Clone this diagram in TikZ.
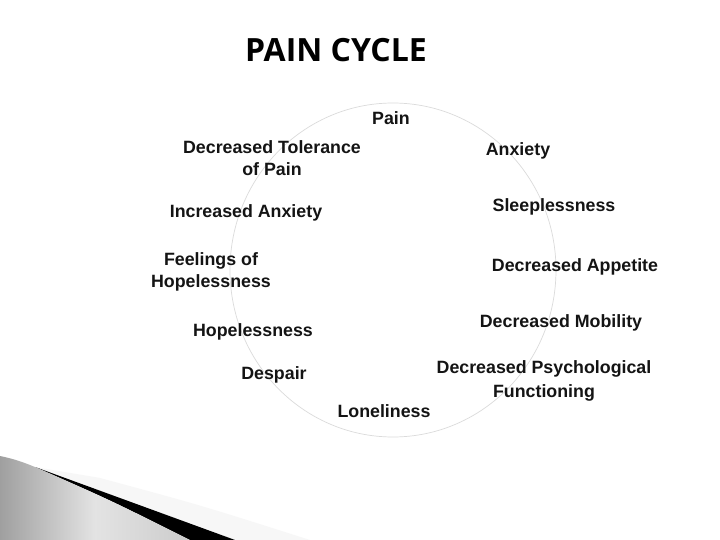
\documentclass[tikz,border=0pt]{standalone}
\usepackage{fontspec}
\setmainfont{Liberation Sans}
\newfontfamily\ttlfont{Open Sans}
\begin{document}
\begin{tikzpicture}[x=1pt,y=-1pt,
  lbl/.style={font=\bfseries\fontsize{17.8}{22}\selectfont, align=center, inner sep=0pt, text=black!92},
  ttl/.style={font=\ttlfont\bfseries\fontsize{32}{38}\selectfont, inner sep=0pt, text=black}]
\useasboundingbox (0,0) rectangle (720,540);
\fill[white] (0,0) rectangle (720,540);
% swoosh
\fill[gray!6] (35,467) .. controls (120,500) .. (235,540) -- (310,540) .. controls (200,505) .. (100,478) -- cycle;
\fill[black] (35,467) .. controls (120,498) .. (235,540) -- (190,540) .. controls (110,500) .. (35,467) -- cycle;
\shade[left color=gray!75, right color=gray!40, middle color=gray!22]
  (0,456) .. controls (15,459) and (25,463) .. (35,467) .. controls (110,500) .. (190,540) -- (0,540) -- cycle;
% circle
\draw[gray!28, line width=0.7pt] (393,270) ellipse [x radius=163, y radius=167];
% title
\node[ttl] (title) at (336,50) {PAIN CYCLE};
% labels
\node[lbl] (pain) at (391,118) {Pain};
\node[lbl] (dtol) at (272,158) {Decreased Tolerance\\of Pain};
\node[lbl] (anx) at (518,151) {Anxiety};
\node[lbl] (ianx) at (246,213) {Increased Anxiety};
\node[lbl] (sleep) at (554,207) {Sleeplessness};
\node[lbl] (feel) at (211,272) {Feelings of\\Hopelessness};
\node[lbl] (app) at (575,267) {Decreased Appetite};
\node[lbl] (hope) at (253,332) {Hopelessness};
\node[lbl] (mob) at (561,323) {Decreased Mobility};
\node[lbl] (desp) at (274,375) {Despair};
\node[lbl] (psy) at (544,381) {Decreased Psychological\\[2pt]Functioning};
\node[lbl] (lone) at (384,411) {Loneliness};
\end{tikzpicture}
\end{document}
